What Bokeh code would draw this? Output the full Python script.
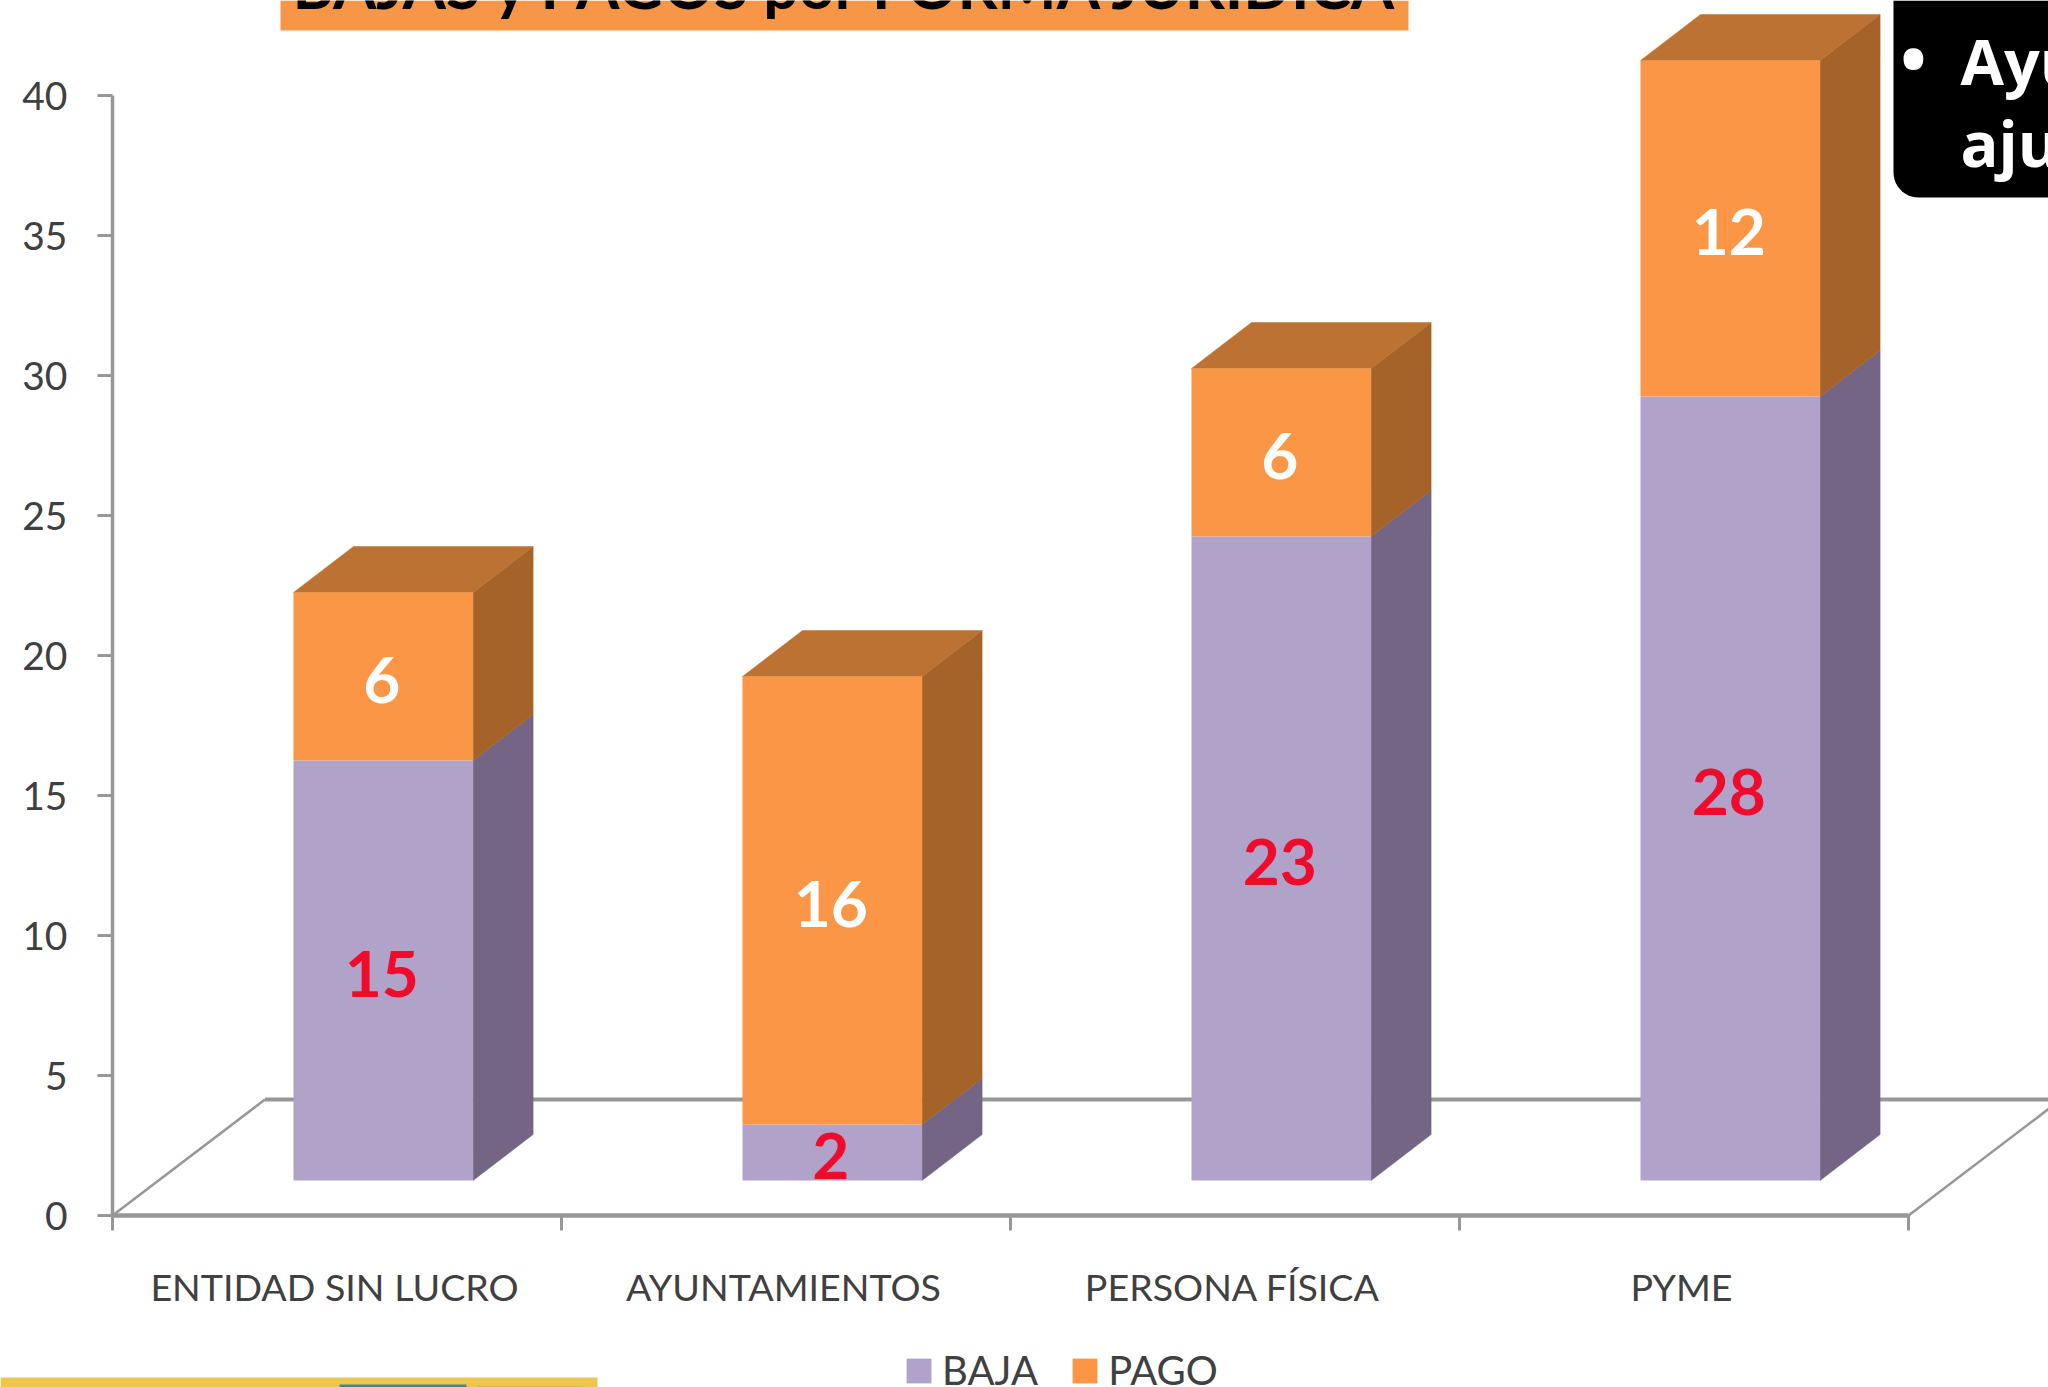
from bokeh.plotting import figure
from bokeh.embed import file_html
from bokeh.resources import INLINE
from bokeh.core.properties import value
from bokeh.models import FixedTicker, LinearAxis, Legend, LegendItem, Range1d, ColumnDataSource
import numpy as np

categories = ["ENTIDAD SIN LUCRO", "AYUNTAMIENTOS", "PERSONA FÍSICA", "PYME"]
baja = [15, 2, 23, 28]
pago = [6, 16, 6, 12]
y_ticks = [0, 5, 10, 15, 20, 25, 30, 35, 40]
title_text = "BAJAS y PAGOS por FORMA JURÍDICA"
note_lines = ["Ayu", "aju"]

W, H = 2048, 1387
X0, CAT_W = 112, 449
Y0, UNIT = 1215, 28


def dx(px):
    return (px - X0) / CAT_W


def dy(py):
    return (Y0 - py) / UNIT


PURPLE, PURPLE_SIDE = "#B1A2C9", "#736583"
ORANGE, ORANGE_SIDE, ORANGE_TOP = "#FA9645", "#A66329", "#BC7232"
AXIS = "#979797"
TEXT = "#404040"
FONT = "Lato"

p = figure(width=W, height=H, output_backend="svg", toolbar_location=None,
           x_range=Range1d(dx(0), dx(W)), y_range=Range1d(dy(H), dy(0)),
           x_axis_location=None, y_axis_location=None, min_border=0,
           outline_line_color=None, background_fill_color="white")
p.grid.visible = False

# floor
FLOOR_X, FLOOR_Y = dx(264.5), dy(1099)
p.line([0, FLOOR_X], [0, FLOOR_Y], line_color=AXIS, line_width=2.5)
p.line([FLOOR_X, dx(W)], [FLOOR_Y, FLOOR_Y], line_color=AXIS, line_width=4)
p.line([4, 4 + FLOOR_X], [0, FLOOR_Y], line_color=AXIS, line_width=2.5)

# axes
yax = LinearAxis(fixed_location=0, ticker=FixedTicker(ticks=y_ticks), bounds=(0, 40))
yax.axis_line_color = AXIS
yax.axis_line_width = 3.5
yax.major_tick_line_color = AXIS
yax.major_tick_line_width = 3
yax.major_tick_in = 0
yax.major_tick_out = 15
yax.minor_tick_line_color = None
yax.major_label_text_font = FONT
yax.major_label_text_font_size = "39px"
yax.major_label_text_color = TEXT
yax.major_label_standoff = 30
p.add_layout(yax, "left")

LABEL_X = 0.5 - 2.5 / CAT_W
xax = LinearAxis(fixed_location=0, bounds=(0, 4),
                 ticker=FixedTicker(ticks=[i + LABEL_X for i in range(len(categories))],
                                    minor_ticks=list(range(len(categories) + 1))))
xax.axis_line_color = AXIS
xax.axis_line_width = 4.5
xax.major_tick_line_color = None
xax.minor_tick_line_color = AXIS
xax.minor_tick_line_width = 3
xax.minor_tick_in = 0
xax.minor_tick_out = 15
xax.major_label_overrides = {i + LABEL_X: c for i, c in enumerate(categories)}
xax.major_label_text_font = FONT
xax.major_label_text_font_size = "37.6px"
xax.major_label_text_color = TEXT
xax.major_label_standoff = 33
p.add_layout(xax, "below")

# 3-D stacked bars
BAR_L, BAR_W = dx(293), 0.4
BASE = (Y0 - 1180) / UNIT
DEPTH_X, DEPTH_Y = 60 / CAT_W, 46 / UNIT
idx = np.arange(len(categories))
b = np.array(baja, dtype=float)
g = np.array(pago, dtype=float)
left = idx + BAR_L
right = left + BAR_W
b_bot = np.full(len(b), BASE)
b_top = b_bot + b
g_top = b_top + g


def side_xs():
    return [[r, r + DEPTH_X, r + DEPTH_X, r] for r in right]


p.patches(side_xs(), [[lo, lo + DEPTH_Y, hi + DEPTH_Y, hi] for lo, hi in zip(b_bot, b_top)],
          fill_color=PURPLE_SIDE, line_color=PURPLE_SIDE, line_width=0.5)
p.patches(side_xs(), [[lo, lo + DEPTH_Y, hi + DEPTH_Y, hi] for lo, hi in zip(b_top, g_top)],
          fill_color=ORANGE_SIDE, line_color=ORANGE_SIDE, line_width=0.5)
p.patches([[l, r, r + DEPTH_X, l + DEPTH_X] for l, r in zip(left, right)],
          [[t, t, t + DEPTH_Y, t + DEPTH_Y] for t in g_top],
          fill_color=ORANGE_TOP, line_color=ORANGE_TOP, line_width=0.5)
r_baja = p.quad(left=left, right=right, bottom=b_bot, top=b_top,
                fill_color=PURPLE, line_color=None)
r_pago = p.quad(left=left, right=right, bottom=b_top, top=g_top,
                fill_color=ORANGE, line_color=None)

# value labels
cx = (left + right) / 2 - 1.5 / CAT_W
for vals, mid, col in (
    (baja, (b_bot + b_top) / 2 - 3 / UNIT, "#EE0B2B"),
    (pago, (b_top + g_top) / 2 - 3 / UNIT, "#FFFFFF"),
):
    src = ColumnDataSource(dict(x=cx, y=mid, t=[str(v) for v in vals]))
    p.text("x", "y", text="t", source=src, text_color=col, text_font=value(FONT),
           text_font_style="bold", text_font_size="64px", text_align="center",
           text_baseline="middle")

# title band
p.quad(left=dx(280), right=dx(1408), top=dy(0), bottom=dy(30),
       fill_color="#F79646", line_color=None)
p.text([dx(847)], [dy(-16)], text=[title_text], text_color="black", text_font=value(FONT),
       text_font_style="bold", text_font_size="62.5px", text_align="center",
       text_baseline="alphabetic")

# black note box, rounded lower-left corner
R = 25
th = np.linspace(0, 0.5 * np.pi, 12)
arc_x = 1893 + R - R * np.sin(th)
arc_y = 197 - R + R * np.cos(th)
box_x = [1893, 2048, 2048] + list(arc_x)
box_y = [0, 0, 197] + list(arc_y)
p.patch([dx(v) for v in box_x], [dy(v) for v in box_y], fill_color="black", line_color=None)
p.text([dx(1913)], [dy(57)], text=["•"], text_color="white", text_font=value("Open Sans"),
       text_font_style="bold", text_font_size="70px", text_align="center",
       text_baseline="alphabetic")
p.text([dx(1960), dx(1960)], [dy(60), dy(142)], text=note_lines, text_color="white",
       text_font=value("Open Sans"), text_font_style="bold", text_font_size="63px",
       text_align="left", text_baseline="alphabetic")

# strip of next element, bottom-left
p.quad(left=dx(0), right=dx(597), top=dy(1377), bottom=dy(H), fill_color="#EEC64E", line_color=None)
p.quad(left=dx(339), right=dx(466), top=dy(1384), bottom=dy(H), fill_color="#4C7FA0", line_color=None)
p.quad(left=dx(476), right=dx(582), top=dy(1386), bottom=dy(H), fill_color="#A8A48A", line_color=None)

legend = Legend(items=[LegendItem(label="BAJA", renderers=[r_baja]),
                       LegendItem(label="PAGO", renderers=[r_pago])],
                orientation="horizontal", location=(903, -7),
                glyph_width=31, glyph_height=31, label_text_font=FONT,
                label_text_font_size="40px", label_text_color=TEXT,
                background_fill_alpha=0, border_line_color=None,
                spacing=31, label_standoff=8, padding=0, margin=0)
p.add_layout(legend, "center")

open("out.html", "w").write(file_html(p, INLINE))
